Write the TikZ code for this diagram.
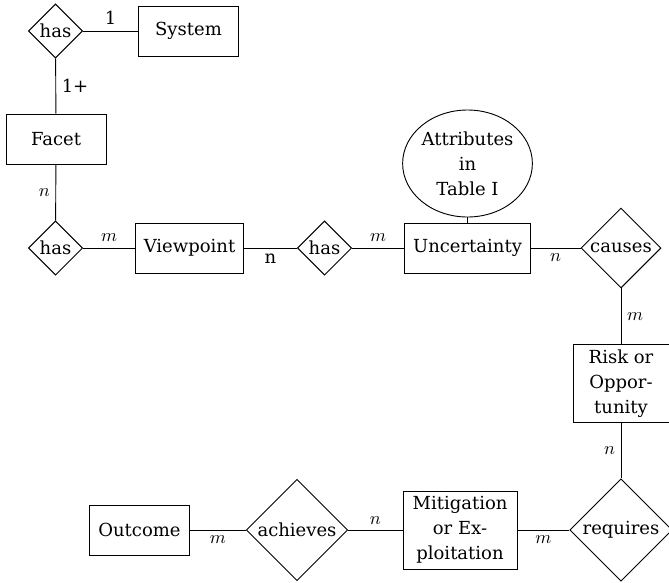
\documentclass[tikz,border=0pt]{standalone}
\usepackage{fontspec}
\setmainfont{DejaVu Serif}
\usetikzlibrary{shapes.geometric}

\begin{document}
\begin{tikzpicture}[
    x=0.6pt, y=-0.6pt, line width=0.55pt,
    every node/.style={font=\fontsize{10.8}{15}\selectfont},
    entity/.style={draw, minimum width=60pt, minimum height=30pt,
                   inner xsep=5pt, align=center},
    rel/.style={draw, diamond, aspect=1, inner sep=1.3pt},
    attrib/.style={draw, ellipse, inner sep=0pt, align=center,
                   minimum width=77.4pt, minimum height=64.2pt},
    link/.style={draw}
  ]
  \useasboundingbox (0,0) rectangle (669,582);
  \def\ra{31} \def\rb{248} \def\rc{530}
  \def\colr{621}

  \node[rel] (hasS) at (55.5,\ra) {has};
  \node[entity] (sys) at (188.5,\ra) {System};
  \node[entity] (facet) at (56,139) {Facet};
  \node[rel] (hasF) at (55.5,\rb) {has};
  \node[entity] (view) at (189.5,\rb) {Viewpoint};
  \node[rel] (hasV) at (324.5,\rb) {has};
  \node[attrib] (attr) at (467.5,163.5) {Attributes\\in\\Table I};
  \node[entity] (unc) at (467.5,\rb) {Uncertainty};
  \node[rel] (causes) at (\colr,\rb) {causes};
  \node[entity, minimum width=57.6pt] (risk) at (\colr,383.5) {Risk or\\Oppor-\\tunity};
  \node[rel] (req) at (\colr,\rc) {requires};
  \node[entity, minimum width=68.4pt] (mit) at (460,\rc) {Mitigation\\or Ex-\\ploitation};
  \node[rel] (ach) at (297,\rc) {achieves};
  \node[entity] (out) at (139.5,\rc) {Outcome};

  \draw[link] (hasS) -- node[above] {1} (sys);
  \draw[link] (hasS) -- node[right] {1+} (facet);
  \draw[link] (facet) -- node[left] {$n$} (hasF);
  \draw[link] (hasF) -- node[above] {$m$} (view);
  \draw[link] (view) -- node[below] {n} (hasV);
  \draw[link] (hasV) -- node[above] {$m$} (unc);
  \draw[link] (attr) -- (unc);
  \draw[link] (unc) -- node[below] {$n$} (causes);
  \draw[link] (causes) -- node[right] {$m$} (risk);
  \draw[link] (risk) -- node[left] {$n$} (req);
  \draw[link] (mit) -- node[below] {$m$} (req);
  \draw[link] (ach) -- node[above] {$n$} (mit);
  \draw[link] (out) -- node[below] {$m$} (ach);
\end{tikzpicture}
\end{document}
